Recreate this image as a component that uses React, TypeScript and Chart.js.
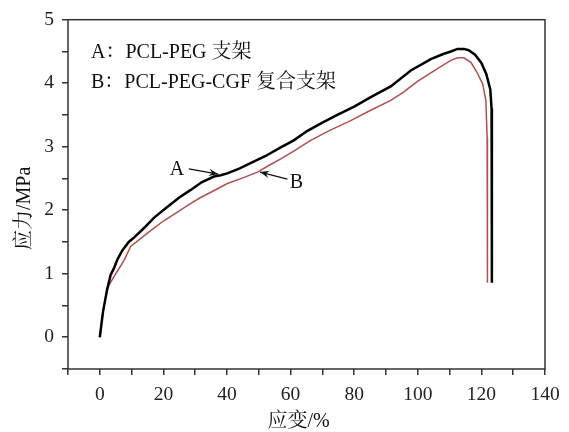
import React, { useEffect, useRef } from "react";
import { Chart, registerables } from "chart.js";

Chart.register(...registerables);

// Curve A: PCL-PEG scaffold (strain %, stress MPa)
const strainA = [0, 1, 2.3, 3.4, 4.4, 5.5, 7, 9.1, 11, 13.9, 17, 21.2, 25, 28.6, 32, 35.9, 38, 40.1, 44, 47.4, 52, 56.9, 61, 65.3, 70, 74.7, 80, 85.2, 91.5, 97.8, 104.1, 108, 110.4, 112.5, 114.5, 116, 118, 120, 121.5, 122.8, 123.2, 123.3, 123.3];
const stressA = [0, 0.4, 0.75, 0.98, 1.08, 1.22, 1.36, 1.5, 1.58, 1.72, 1.88, 2.05, 2.2, 2.32, 2.44, 2.53, 2.55, 2.58, 2.66, 2.74, 2.85, 2.99, 3.1, 3.25, 3.38, 3.5, 3.63, 3.78, 3.95, 4.2, 4.38, 4.46, 4.5, 4.54, 4.54, 4.52, 4.45, 4.32, 4.15, 3.9, 3.6, 3.5, 0.86];

// Curve B: PCL-PEG-CGF composite scaffold
const strainB = [0, 1, 2.3, 3, 5, 7.5, 9.7, 13, 16, 20, 24.4, 28, 31.7, 36, 40.1, 45, 49.6, 53, 56.9, 61, 66.3, 72, 78.9, 85, 91.5, 95.5, 99.9, 106.2, 110.4, 112.5, 114.5, 116.7, 118.5, 120.4, 121.4, 121.8, 121.9];
const stressB = [0, 0.4, 0.75, 0.83, 1.0, 1.2, 1.43, 1.56, 1.68, 1.83, 1.97, 2.09, 2.2, 2.31, 2.42, 2.51, 2.6, 2.7, 2.81, 2.93, 3.1, 3.25, 3.41, 3.57, 3.73, 3.86, 4.03, 4.23, 4.36, 4.4, 4.4, 4.33, 4.18, 3.99, 3.73, 3.15, 0.86];

const legendLines = ["A：PCL-PEG 支架", "B：PCL-PEG-CGF 复合支架"];
const xTitle = "应变/%";
const yTitle = "应力/MPa";

// curve labels with arrows (data coordinates)
const arrowLabels = [
  { text: "A", at: [24.3, 2.63], from: [28, 2.65], to: [37.2, 2.57] },
  { text: "B", at: [61.8, 2.44], from: [59, 2.49], to: [50.4, 2.6] },
];

const FONT = '"Liberation Serif", "Noto Serif CJK SC", "Noto Sans CJK SC", serif';

export default function App() {
  const ref = useRef<HTMLCanvasElement | null>(null);
  useEffect(() => {
    if (!ref.current) return;
    const overlay = {
      id: "overlay",
      afterDraw(chart: any) {
        const { ctx, chartArea: a, scales } = chart;
        const xs = scales.x, ys = scales.y;
        ctx.save();
        ctx.strokeStyle = "#333";
        ctx.lineWidth = 1.5;
        ctx.strokeRect(a.left, a.top, a.right - a.left, a.bottom - a.top);
        ctx.fillStyle = "#111";
        ctx.font = `20px ${FONT}`;
        ctx.textBaseline = "middle";
        ctx.textAlign = "left";
        legendLines.forEach((t, i) => ctx.fillText(t, a.left + 23, a.top + 33 + i * 30));
        // arrow labels
        arrowLabels.forEach((l) => {
          const tx = xs.getPixelForValue(l.at[0]);
          const ty = ys.getPixelForValue(l.at[1]);
          ctx.textAlign = "center";
          ctx.fillText(l.text, tx, ty);
          const x1 = xs.getPixelForValue(l.from[0]), y1 = ys.getPixelForValue(l.from[1]);
          const x2 = xs.getPixelForValue(l.to[0]), y2 = ys.getPixelForValue(l.to[1]);
          ctx.strokeStyle = "#111";
          ctx.lineWidth = 1.3;
          ctx.beginPath();
          ctx.moveTo(x1, y1);
          ctx.lineTo(x2, y2);
          ctx.stroke();
          const ang = Math.atan2(y2 - y1, x2 - x1);
          ctx.beginPath();
          ctx.moveTo(x2, y2);
          ctx.lineTo(x2 - 10 * Math.cos(ang - 0.38), y2 - 10 * Math.sin(ang - 0.38));
          ctx.lineTo(x2 - 6 * Math.cos(ang), y2 - 6 * Math.sin(ang));
          ctx.lineTo(x2 - 10 * Math.cos(ang + 0.38), y2 - 10 * Math.sin(ang + 0.38));
          ctx.closePath();
          ctx.fill();
        });
        // axis titles
        ctx.textAlign = "center";
        ctx.fillText(xTitle, (a.left + a.right) / 2 - 8, 422);
        ctx.save();
        ctx.translate(25, (a.top + a.bottom) / 2 + 14);
        ctx.rotate(-Math.PI / 2);
        ctx.fillText(yTitle, 0, 0);
        ctx.restore();
        ctx.restore();
      },
    };
    const chart = new Chart(ref.current, {
      type: "line",
      data: {
        datasets: [
          {
            label: "A",
            data: strainA.map((x, i) => ({ x, y: stressA[i] })),
            borderColor: "#000",
            borderWidth: 2.5,
            pointRadius: 0,
            tension: 0,
          },
          {
            label: "B",
            data: strainB.map((x, i) => ({ x, y: stressB[i] })),
            borderColor: "#b0504f",
            borderWidth: 1.5,
            pointRadius: 0,
            tension: 0,
          },
        ],
      },
      options: {
        animation: false,
        responsive: false,
        maintainAspectRatio: false,
        layout: { padding: { left: 0, right: 24, top: 18, bottom: 0 } },
        plugins: { legend: { display: false }, tooltip: { enabled: false } },
        scales: {
          x: {
            type: "linear",
            min: -10,
            max: 140,
            afterFit: (s: any) => { s.height = 63; },
            border: { display: false },
            grid: { drawOnChartArea: false, drawTicks: true, tickLength: 6, color: "#333", tickColor: "#333", lineWidth: 1.5 },
            ticks: {
              stepSize: 10,
              padding: 8,
              color: "#222",
              font: { family: FONT, size: 19.5 },
              maxRotation: 0,
              autoSkip: false,
              callback: (v: any) => (Number(v) >= 0 && Number(v) % 20 === 0 ? String(v) : ""),
            },
          },
          y: {
            type: "linear",
            min: -0.5,
            max: 5,
            afterFit: (s: any) => { s.width = 68; },
            border: { display: false },
            grid: { drawOnChartArea: false, drawTicks: true, tickLength: 6, color: "#333", tickColor: "#333", lineWidth: 1.5 },
            ticks: {
              stepSize: 0.5,
              padding: 8,
              color: "#222",
              font: { family: FONT, size: 19.5 },
              autoSkip: false,
              callback: (v: any) => (Number(v) >= 0 && Number.isInteger(Number(v)) ? String(v) : ""),
            },
          },
        },
      },
      plugins: [overlay],
    } as any);
    return () => chart.destroy();
  }, []);
  return (
    <div style={{ position: "absolute", left: 0, top: 0, width: 569, height: 432, background: "#fff" }}>
      <canvas ref={ref} width={569} height={432} style={{ width: 569, height: 432 }} />
    </div>
  );
}
